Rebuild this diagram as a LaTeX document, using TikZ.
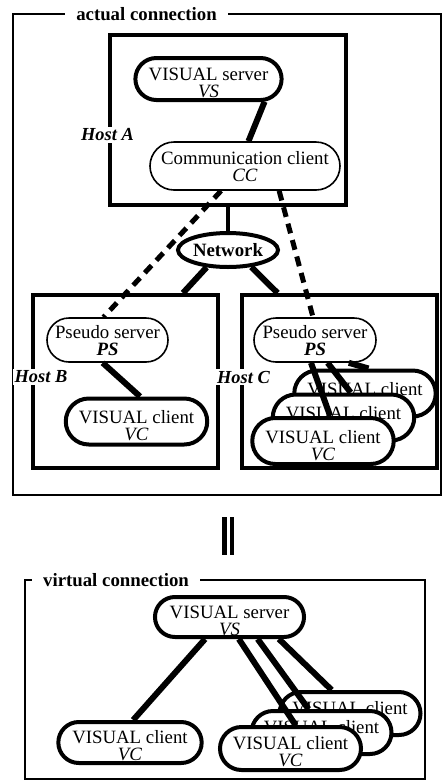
\documentclass[tikz,border=0pt]{standalone}
\usepackage{fontspec}
\setmainfont{Liberation Serif}
\usetikzlibrary{positioning,shapes.misc,shapes.geometric}

% first line gets a strut so the text sits a bit low in the box
\newcommand{\twoline}[3][10pt]{\rule{0pt}{#1}#2\\#3}

\tikzset{
  fig/.style={font=\fontsize{9.4}{8.5}\selectfont},
  frame/.style={draw,line width=0.9pt},
  ttl/.style={fill=white,inner xsep=5.5pt,inner ysep=1pt,
              font=\fontsize{9.4}{8.5}\selectfont\bfseries},
  host/.style={draw,line width=2pt,inner sep=0pt},
  hostlbl/.style={fill=white,inner sep=1pt,
                  font=\fontsize{9.2}{9}\selectfont\bfseries\itshape},
  proc/.style={rounded rectangle,draw,line width=2pt,fill=white,align=center,
               inner xsep=1pt,inner ysep=0.5pt},
  thinproc/.style={proc,line width=0.8pt},
  client/.style={proc,minimum width=70pt,minimum height=23pt},
  netw/.style={ellipse,draw,line width=2pt,fill=white,inner sep=0pt,
               minimum width=50pt,minimum height=17pt,
               font=\fontsize{9.4}{8.5}\selectfont\bfseries},
  ln/.style={line width=3pt},
  dln/.style={line width=2.5pt,dash pattern=on 5pt off 3.5pt},
}

\begin{document}
\begin{tikzpicture}[fig,x=0.5pt,y=-0.5pt]
\useasboundingbox (0,0) rectangle (444,783);

% ---- actual connection
\draw[frame] (13,14) rectangle (441,495);
\node[ttl] (actual) at (146.5,14) {actual connection};

\node[host,minimum width=118pt,minimum height=85pt] (hostA) at (228,120) {};
\node[host,minimum width=92.5pt,minimum height=86.5pt] (hostB) at (125.5,381.5) {};
\node[host,minimum width=97.5pt,minimum height=86.5pt] (hostC) at (339.5,381.5) {};
\node[hostlbl] (lblA) at (107.5,135) {Host A};
\node[hostlbl] (lblB) at (41,377) {Host B};
\node[hostlbl] (lblC) at (243.5,377) {Host C};

\node[proc,minimum width=72.5pt,minimum height=21pt] (vs) at (208.5,79)
  {\twoline{VISUAL server}{\textit{VS}}};
\node[thinproc,minimum width=97pt,minimum height=24pt] (cc) at (245,166)
  {\twoline[7pt]{Communication client}{\textit{CC}}};
\node[netw] (net) at (228,250) {Network};

\node[thinproc,minimum width=62.5pt,minimum height=22pt] (psb) at (107.5,340)
  {\twoline[7pt]{Pseudo server}{\textbf{\textit{PS}}}};
\node[client] (vcb) at (136.5,421.5) {\twoline[11pt]{VISUAL client}{\textit{VC}}};

\node[thinproc,minimum width=63pt,minimum height=22pt] (psc) at (315,340)
  {\twoline[7pt]{Pseudo server}{\textbf{\textit{PS}}}};

\draw[ln] (vs.-22) -- (cc.82);
\draw[ln,line width=1.8pt] (hostA.south) -- (net.north);
\draw[ln] (net.-141) -- (hostB.57);
\draw[ln] (net.-36) -- (hostC.125);
\draw[dln] (cc.-134) -- (psb.100);
\draw[dln] (cc.-36) -- (psc.95);
\draw[ln] (psb.-102) -- (vcb.82);

% stacked clients on host C, back to front
\node[client] (c3) at (365,393.5) {\twoline[11pt]{VISUAL client}{\phantom{VC}}};
\draw[ln] (psc.-34) -- (c3.82);
\node[client] (c2) at (343.5,417.5) {\twoline[11pt]{VISUAL client}{\phantom{VC}}};
\draw[ln] (psc.-61) -- (c2.74);
\node[client] (c1) at (323,441) {\twoline[11pt]{VISUAL client}{\textit{VC}}};
\draw[ln] (psc.-100) -- (c1.74);

% ---- equals sign
\draw[line width=2.2pt] (224.5,517) -- (224.5,555);
\draw[line width=2.2pt] (232,517) -- (232,555);

% ---- virtual connection
\draw[frame] (25,580) rectangle (425,779);
\node[ttl] (virtual) at (116,580) {virtual connection};

\node[proc,minimum width=72.5pt,minimum height=20pt] (vs2) at (229.5,617)
  {\twoline{VISUAL server}{\textit{VS}}};
\node[client,minimum width=67pt,minimum height=20.5pt] (vcl) at (130,742.5)
  {\twoline{VISUAL client}{\textit{VC}}};
\draw[ln] (vs2.-138) -- (vcl.82);

\node[client,minimum width=72.5pt,minimum height=21.5pt] (v3) at (350,713.5)
  {\twoline{VISUAL client}{\phantom{VC}}};
\draw[ln] (vs2.-24) -- (v3.128);
\node[client,minimum width=72pt,minimum height=21.5pt] (v2) at (321.5,732.5)
  {\twoline{VISUAL client}{\phantom{VC}}};
\draw[ln] (vs2.-38) -- (v2.119);
\node[client,minimum width=72.5pt,minimum height=21.5pt] (v1) at (290.5,748.5)
  {\twoline{VISUAL client}{\textit{VC}}};
\draw[ln] (vs2.-67) -- (v1.78);

\end{tikzpicture}
\end{document}
